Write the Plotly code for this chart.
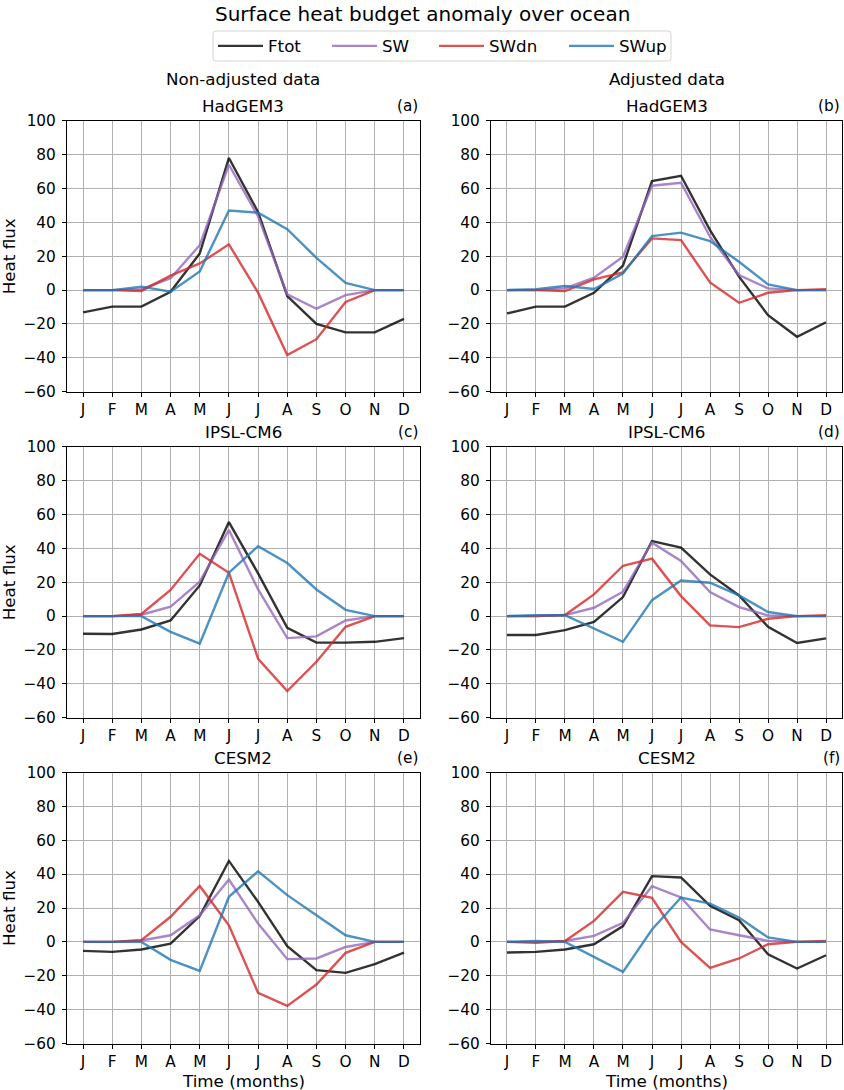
import plotly.graph_objects as go

months = ["J", "F", "M", "A", "M", "J", "J", "A", "S", "O", "N", "D"]
month_idx = list(range(1, 13))
series_names = ["Ftot", "SW", "SWdn", "SWup"]
series_colors = ["rgba(0,0,0,0.8)", "rgba(148,103,189,0.8)", "rgba(214,39,40,0.8)", "rgba(31,119,180,0.8)"]

panel_models = ["HadGEM3", "HadGEM3", "IPSL-CM6", "IPSL-CM6", "CESM2", "CESM2"]
panel_letters = ["(a)", "(b)", "(c)", "(d)", "(e)", "(f)"]

# (a) HadGEM3 non-adjusted
a_Ftot = [-13.2, -9.8, -9.8, -1.0, 21.6, 78.0, 46.0, -3.5, -20.0, -25.0, -25.0, -17.0]
a_SW = [0.0, 0.0, 0.5, 7.0, 26.5, 74.0, 43.5, -2.5, -11.0, -3.0, 0.0, 0.0]
a_SWdn = [0.0, 0.0, -0.5, 8.5, 15.7, 27.0, -1.5, -38.4, -29.0, -7.0, 0.0, 0.0]
a_SWup = [0.0, 0.0, 2.0, -1.0, 11.0, 47.0, 45.7, 36.0, 19.0, 4.3, 0.0, 0.0]
# (b) HadGEM3 adjusted
b_Ftot = [-13.8, -9.8, -9.8, -1.6, 14.4, 64.4, 67.5, 35.4, 7.9, -14.8, -27.6, -19.0]
b_SW = [0.0, 0.0, 1.0, 7.3, 19.7, 61.6, 63.4, 31.5, 8.9, 1.0, 0.0, 0.0]
b_SWdn = [0.0, 0.0, -0.6, 6.3, 10.4, 30.5, 29.5, 4.5, -7.5, -1.6, 0.0, 0.5]
b_SWup = [0.0, 0.5, 2.4, 0.6, 9.8, 31.9, 33.9, 28.9, 16.7, 3.3, 0.0, 0.0]
# (c) IPSL-CM6 non-adjusted
c_Ftot = [-10.4, -10.6, -7.9, -2.6, 18.1, 55.5, 25.2, -6.9, -15.7, -15.7, -15.2, -13.0]
c_SW = [0.0, 0.0, 0.8, 5.5, 20.3, 50.8, 15.7, -13.0, -12.0, -2.6, 0.0, 0.0]
c_SWdn = [0.0, 0.0, 1.2, 15.4, 36.8, 25.6, -25.2, -44.3, -27.0, -6.3, 0.0, 0.0]
c_SWup = [0.0, 0.0, 0.0, -9.3, -16.3, 25.6, 41.3, 31.3, 15.7, 3.7, 0.0, 0.0]
# (d) IPSL-CM6 adjusted
d_Ftot = [-11.2, -11.2, -8.3, -3.5, 11.2, 44.3, 40.4, 24.6, 12.2, -6.3, -15.9, -13.2]
d_SW = [0.0, 0.0, 0.6, 4.9, 14.4, 43.3, 32.5, 14.2, 5.3, 0.4, 0.0, 0.0]
d_SWdn = [0.0, 0.0, 0.6, 12.8, 29.7, 33.9, 11.8, -5.5, -6.5, -1.6, 0.0, 0.5]
d_SWup = [0.0, 0.5, 0.5, -7.5, -15.2, 9.4, 21.0, 19.7, 12.2, 2.4, 0.0, 0.0]
# (e) CESM2 non-adjusted
e_Ftot = [-5.3, -5.9, -4.5, -1.0, 15.2, 47.8, 23.6, -2.6, -16.7, -18.3, -13.2, -6.3]
e_SW = [0.0, 0.0, 0.8, 3.9, 15.7, 36.8, 10.8, -10.2, -9.8, -3.0, 0.0, 0.0]
e_SWdn = [0.0, 0.0, 1.0, 14.8, 33.0, 9.8, -30.1, -37.8, -25.2, -6.5, 0.0, 0.0]
e_SWup = [0.0, 0.0, 0.0, -10.6, -17.1, 26.6, 41.7, 27.6, 15.7, 3.9, 0.0, 0.0]
# (f) CESM2 adjusted
f_Ftot = [-6.3, -5.9, -4.5, -1.4, 9.3, 38.8, 38.0, 21.3, 12.8, -7.3, -15.7, -7.9]
f_SW = [0.0, 0.0, 0.5, 3.5, 11.2, 32.9, 26.2, 7.3, 3.9, 0.6, 0.0, 0.0]
f_SWdn = [0.0, -0.5, 0.5, 12.4, 29.5, 26.0, 0.0, -15.4, -9.8, -1.4, 0.0, 0.5]
f_SWup = [0.0, 0.5, 0.0, -8.9, -17.7, 7.3, 26.2, 22.6, 14.4, 2.6, 0.0, 0.0]

panels = [
    [a_Ftot, a_SW, a_SWdn, a_SWup],
    [b_Ftot, b_SW, b_SWdn, b_SWup],
    [c_Ftot, c_SW, c_SWdn, c_SWup],
    [d_Ftot, d_SW, d_SWdn, d_SWup],
    [e_Ftot, e_SW, e_SWdn, e_SWup],
    [f_Ftot, f_SW, f_SWdn, f_SWup],
]

yticks = [-60, -40, -20, 0, 20, 40, 60, 80, 100]

W, H = 844, 1090
FONT = "DejaVu Sans"
FS_LABEL = 16.7
FS_TICK = 15.3


def px(X):
    return X / W


def py(Y):
    return 1 - Y / H


xdoms = [[px(67), px(420)], [px(491), px(842)]]
ydoms = [[py(391.7), py(120.7)], [py(717.7), py(446.7)], [py(1043.5), py(772.5)]]

fig = go.Figure()
layout = dict(
    width=W, height=H,
    margin=dict(l=0, r=0, t=0, b=0, autoexpand=False),
    paper_bgcolor="white", plot_bgcolor="white",
    font=dict(family=FONT, size=FS_LABEL, color="black"),
    showlegend=True,
)
# one legend per entry so entries can be placed like the reference
legend_ids = ["legend", "legend2", "legend3", "legend4"]
legend_x = [213, 327, 434, 564]
for k, lid in enumerate(legend_ids):
    layout[lid] = dict(orientation="h", x=px(legend_x[k]), xanchor="left", y=py(46), yanchor="middle",
                       borderwidth=0, bgcolor="rgba(0,0,0,0)", font=dict(size=FS_LABEL),
                       itemwidth=45)

annotations = []
for p in range(6):
    r, c = divmod(p, 2)
    n = p + 1
    xa = "x" if n == 1 else f"x{n}"
    ya = "y" if n == 1 else f"y{n}"
    for s in range(4):
        fig.add_trace(go.Scatter(
            x=month_idx, y=panels[p][s], mode="lines", name=series_names[s],
            line=dict(color=series_colors[s], width=2.4),
            xaxis=xa, yaxis=ya, showlegend=(p == 0), legend=legend_ids[s],
        ))
    layout["xaxis" if n == 1 else f"xaxis{n}"] = dict(
        domain=xdoms[c], anchor=ya, range=[0.45, 12.55], automargin=False,
        tickmode="array", tickvals=month_idx, ticktext=months,
        showgrid=True, gridcolor="#b0b0b0", gridwidth=1,
        showline=True, linecolor="black", linewidth=1.2, mirror=True,
        ticks="outside", ticklen=4, tickcolor="black", zeroline=False,
        tickfont=dict(size=FS_TICK),
    )
    layout["yaxis" if n == 1 else f"yaxis{n}"] = dict(
        domain=ydoms[r], anchor=xa, range=[-60, 100], automargin=False,
        tickmode="array", tickvals=yticks,
        showgrid=True, gridcolor="#b0b0b0", gridwidth=1,
        showline=True, linecolor="black", linewidth=1.2, mirror=True,
        ticks="outside", ticklen=4, tickcolor="black", zeroline=False,
        tickfont=dict(size=FS_TICK), ticklabelstandoff=3,
    )
    dy = [0, 326, 652][r]
    annotations.append(dict(text=panel_models[p], x=(xdoms[c][0] + xdoms[c][1]) / 2, y=py(106 + dy),
                            xref="paper", yref="paper", xanchor="center", yanchor="middle",
                            showarrow=False, font=dict(size=FS_LABEL)))
    annotations.append(dict(text=panel_letters[p], x=xdoms[c][1], y=py(106 + dy),
                            xref="paper", yref="paper", xanchor="right", yanchor="middle",
                            showarrow=False, font=dict(size=FS_TICK)))
    if c == 0:
        annotations.append(dict(text="Heat flux", x=px(9), y=(ydoms[r][0] + ydoms[r][1]) / 2,
                                xref="paper", yref="paper", xanchor="center", yanchor="middle",
                                textangle=-90, showarrow=False, font=dict(size=FS_LABEL)))
    if r == 2:
        annotations.append(dict(text="Time (months)", x=(xdoms[c][0] + xdoms[c][1]) / 2, y=py(1080.5),
                                xref="paper", yref="paper", xanchor="center", yanchor="middle",
                                showarrow=False, font=dict(size=FS_LABEL)))

annotations.append(dict(text="Surface heat budget anomaly over ocean", x=px(422), y=1.0,
                        xref="paper", yref="paper", xanchor="center", yanchor="top",
                        showarrow=False, font=dict(size=20)))
annotations.append(dict(text="Non-adjusted data", x=(xdoms[0][0] + xdoms[0][1]) / 2, y=py(78.5),
                        xref="paper", yref="paper", xanchor="center", yanchor="middle",
                        showarrow=False, font=dict(size=FS_LABEL)))
annotations.append(dict(text="Adjusted data", x=(xdoms[1][0] + xdoms[1][1]) / 2, y=py(78.5),
                        xref="paper", yref="paper", xanchor="center", yanchor="middle",
                        showarrow=False, font=dict(size=FS_LABEL)))
layout["annotations"] = annotations

# legend frame (rounded box)
x0, x1, y0, y1, rr = px(213), px(671), py(31), py(61), 3
rx, ry = rr / W, rr / H
path = (f"M{x0 + rx},{y0} L{x1 - rx},{y0} Q{x1},{y0} {x1},{y0 - ry} "
        f"L{x1},{y1 + ry} Q{x1},{y1} {x1 - rx},{y1} L{x0 + rx},{y1} Q{x0},{y1} {x0},{y1 + ry} "
        f"L{x0},{y0 - ry} Q{x0},{y0} {x0 + rx},{y0} Z")
layout["shapes"] = [dict(type="path", path=path, xref="paper", yref="paper",
                         line=dict(color="#d5d5d5", width=1), fillcolor="rgba(255,255,255,0.8)",
                         layer="below")]
fig.update_layout(**layout)
# remove the default 8px page margin so the figure sits at the window's corner
fig.write_html("out.html", config={"displayModeBar": False},
               post_script="document.body.style.margin='0';")
